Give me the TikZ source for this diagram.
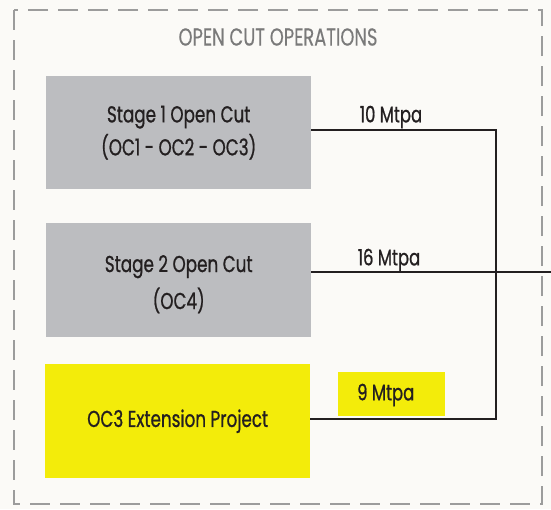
\documentclass[tikz,border=0pt]{standalone}
\usepackage{fontspec}
\newfontfamily\condfont[FakeStretch=0.73, FakeBold=0.8]{Poppins}
\newfontfamily\condlight[FakeStretch=0.73, FakeBold=0.3]{Poppins}
\definecolor{paper}{HTML}{FBFAF7}
\definecolor{stagegrey}{HTML}{BCBDC0}
\definecolor{projyellow}{HTML}{F3EC0A}
\definecolor{ink}{HTML}{231F20}
\definecolor{framegrey}{HTML}{9C9C9C}
\definecolor{titlegrey}{HTML}{7A7A7A}
\tikzset{
  stagebox/.style={rectangle, fill=stagegrey, draw=none, inner sep=0pt,
    minimum width=265pt, minimum height=113pt, anchor=north west,
    align=center, text=ink, font=\condfont\fontsize{23}{33}\selectfont},
  projbox/.style={stagebox, fill=projyellow},
  boxtext/.style={align=center, text=ink, inner sep=0pt},
  ratelabel/.style={text=ink, inner sep=0pt, font=\condfont\fontsize{22.5}{24}\selectfont},
  feed/.style={draw=ink, line width=1.8pt},
  framebox/.style={draw=framegrey, line width=1.6pt, dash pattern=on 20pt off 10pt}
}
\begin{document}
\begin{tikzpicture}[x=1pt, y=-1pt]
  % canvas
  \fill[paper] (0,0) rectangle (551,509);
  \useasboundingbox (0,0) rectangle (551,509);
  % dashed frame of the operations group
  \draw[framebox] (14,10) rectangle (542,504);
  \node[text=titlegrey, inner sep=0pt, font=\condlight\fontsize{24.5}{26}\selectfont]
    (title) at (278,37) {OPEN CUT OPERATIONS};
  % operation boxes
  \node[stagebox] (b1) at (46,76) {Stage 1 Open Cut\\(OC1 - OC2 - OC3)};
  \node[stagebox, minimum height=114pt] (b2) at (46,223) {};
  \node[boxtext, font=\condfont\fontsize{23}{37}\selectfont] (b2text)
    at ([yshift=-4pt]b2.center) {Stage 2 Open Cut\\(OC4)};
  \node[projbox, minimum height=114pt] (b3) at (45,364) {OC3 Extension Project};
  % rate labels
  \node[ratelabel] (r1) at (391,117) {10 Mtpa};
  \node[ratelabel] (r2) at (389,260) {16 Mtpa};
  \node[rectangle, fill=projyellow, minimum width=107pt, minimum height=44pt,
    inner sep=0pt, anchor=north west] (r3box) at (338,372) {};
  \node[ratelabel, anchor=west] (r3) at (357,395) {9 Mtpa};
  % connector junctions
  \coordinate (j1) at (496,130);
  \coordinate (j3) at (496,419);
  \coordinate (out) at (551,272);
  % connectors
  \draw[feed, line join=miter] (b1.east |- j1) -- (j1) -- (j3) -- (b3.east |- j3);
  \draw[feed] (b2.east |- out) -- (out);
\end{tikzpicture}
\end{document}
